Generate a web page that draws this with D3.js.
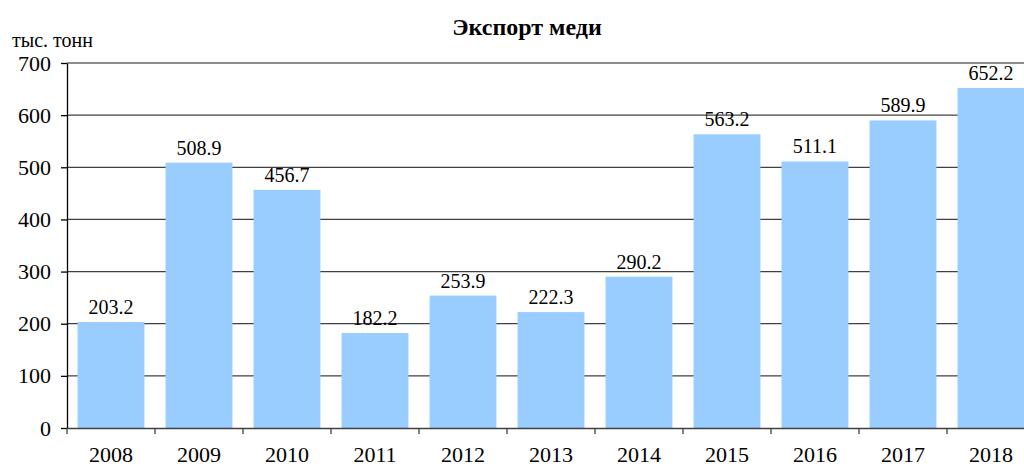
<!DOCTYPE html>
<html>
<head>
<meta charset="utf-8">
<script src="https://cdn.jsdelivr.net/npm/d3@7"></script>
<style>
  body { margin: 0; background: #fff; }
  svg text { font-family: 'Liberation Serif' !important; }
</style>
</head>
<body>
<div id="chart"></div>
<script>
// chart data
var years = ["2008", "2009", "2010", "2011", "2012", "2013", "2014", "2015", "2016", "2017", "2018"];
var exportValues = [203.2, 508.9, 456.7, 182.2, 253.9, 222.3, 290.2, 563.2, 511.1, 589.9, 652.2];
var yTicks = [0, 100, 200, 300, 400, 500, 600, 700];

var serifFont = "Liberation Serif";

var width = 1024, height = 469;
var plotLeft = 67, plotTop = 63, plotBottom = 428;
var bandW = 88;

var svg = d3.select("#chart").append("svg")
    .attr("width", width)
    .attr("height", height)
    .attr("font-family", serifFont);

var x = d3.scaleBand()
    .domain(years)
    .range([plotLeft, plotLeft + bandW * years.length])
    .paddingInner(0.24)
    .paddingOuter(0.12);

var y = d3.scaleLinear()
    .domain([0, 700])
    .range([plotBottom, plotTop]);

var plotRight = plotLeft + bandW * years.length;

// gridlines
svg.append("g").selectAll("line")
    .data(yTicks.slice(1))
    .enter().append("line")
    .attr("x1", plotLeft).attr("x2", plotRight)
    .attr("y1", d => y(d)).attr("y2", d => y(d))
    .attr("stroke", d => d === 700 ? "#8c8c8c" : "#404040")
    .attr("stroke-width", d => d === 700 ? 2 : 1.3);

// bars
svg.append("g").selectAll("rect")
    .data(exportValues)
    .enter().append("rect")
    .attr("x", (d, i) => x(years[i]))
    .attr("y", d => y(d))
    .attr("width", x.bandwidth())
    .attr("height", d => plotBottom - y(d))
    .attr("fill", "#99ccff");

// value labels
svg.append("g").selectAll("text")
    .data(exportValues)
    .enter().append("text")
    .attr("x", (d, i) => x(years[i]) + x.bandwidth() / 2)
    .attr("y", d => y(d) - 8)
    .attr("text-anchor", "middle")
    .attr("font-family", serifFont)
    .attr("font-size", 20)
    .text(d => d.toFixed(1));

// y axis
var yAxis = d3.axisLeft(y).tickValues(yTicks).tickSize(6).tickSizeOuter(0).tickPadding(10);
var gy = svg.append("g")
    .attr("transform", "translate(" + plotLeft + ",0)")
    .call(yAxis)
    .attr("font-family", serifFont)
    .attr("font-size", 22);
gy.selectAll("text").attr("fill", "#000");
gy.select(".domain").attr("stroke", "#000").attr("stroke-width", 1.3);
gy.selectAll(".tick line").attr("stroke", "#000").attr("stroke-width", 1.3);

// x axis
var xAxis = d3.axisBottom(x).tickSize(0).tickSizeOuter(0).tickPadding(18);
var gx = svg.append("g")
    .attr("transform", "translate(0," + plotBottom + ")")
    .call(xAxis)
    .attr("font-family", serifFont)
    .attr("font-size", 22);
gx.selectAll("text").attr("fill", "#000");
gx.select(".domain").attr("stroke", "#404040").attr("stroke-width", 1.3);

// small ticks between categories
svg.append("g").selectAll("line")
    .data(years)
    .enter().append("line")
    .attr("x1", d => x(d) - x.step() * x.paddingInner() / 2)
    .attr("x2", d => x(d) - x.step() * x.paddingInner() / 2)
    .attr("y1", plotBottom).attr("y2", plotBottom + 6)
    .attr("stroke", "#404040")
    .attr("stroke-width", 1.3);

// title and unit
svg.append("text")
    .attr("x", 527).attr("y", 35)
    .attr("text-anchor", "middle")
    .attr("font-family", serifFont)
    .attr("font-size", 24)
    .attr("font-weight", "bold")
    .text("Экспорт меди");

svg.append("text")
    .attr("x", 12).attr("y", 47)
    .attr("font-family", serifFont)
    .attr("font-size", 20)
    .text("тыс. тонн");
</script>
</body>
</html>
